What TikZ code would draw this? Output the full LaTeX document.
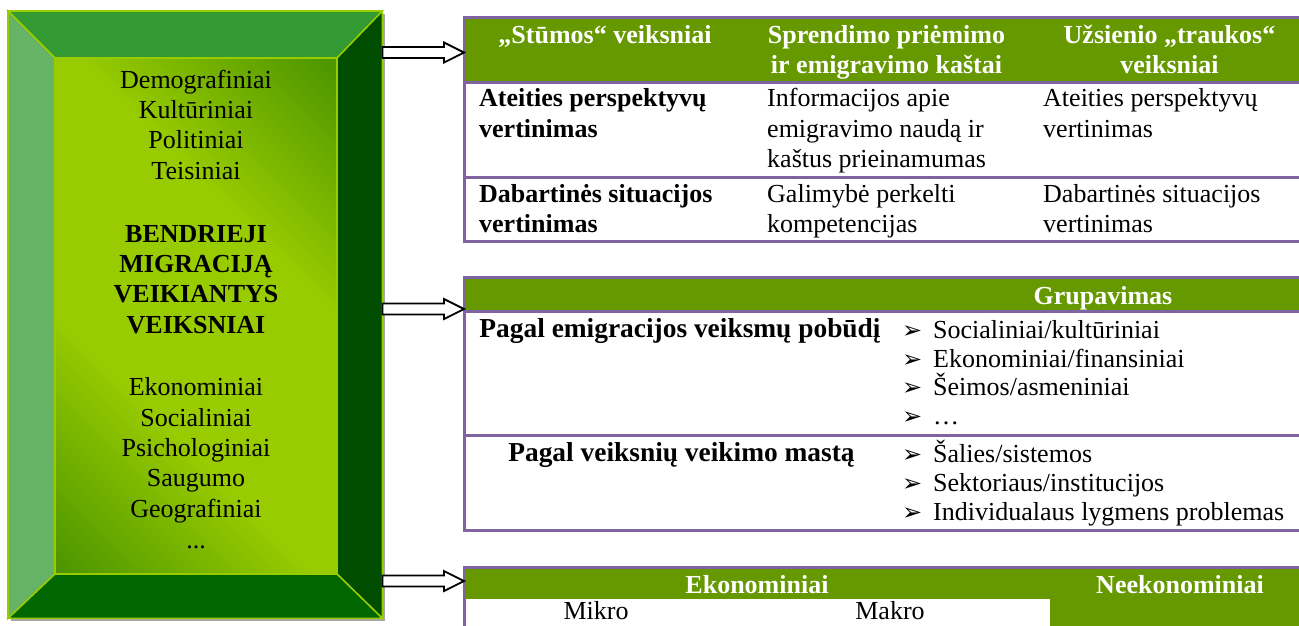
\documentclass[tikz,border=0pt]{standalone}
\usepackage{fontspec}
\setmainfont{Liberation Serif}
\newfontfamily\symfont{DejaVu Sans}
\usetikzlibrary{calc}
\definecolor{hdr}{HTML}{669900}
\definecolor{purp}{HTML}{8064A2}
\definecolor{ygreen}{HTML}{99CC00}
\definecolor{ptop}{HTML}{339933}
\definecolor{pleft}{HTML}{66B366}
\definecolor{pright}{HTML}{004D00}
\definecolor{pbot}{HTML}{006600}
\definecolor{gdark}{HTML}{428E00}
\definecolor{glight}{HTML}{99CC00}
\definecolor{shadowgray}{HTML}{A6A6A6}
\pgfdeclareverticalshading{innergrad}{100bp}{color(0bp)=(gdark); color(12bp)=(gdark); color(38bp)=(glight); color(62bp)=(glight); color(88bp)=(gdark); color(100bp)=(gdark)}
\tikzset{
  txt/.style={font=\fontsize{26}{30}\selectfont, inner sep=0pt, anchor=base},
  txtl/.style={txt, anchor=base west},
  btxt/.style={txt, font=\fontsize{26}{30}\selectfont\bfseries},
  btxtl/.style={btxt, anchor=base west},
  bwide/.style={txt, font=\fontsize{27.4}{30}\selectfont\bfseries},
  htxt/.style={btxt, text=white},
  tline/.style={draw=purp, line width=3pt},
  panel/.style={draw=ygreen, line width=1.5pt, line join=miter},
  barrow/.style={draw=black, fill=white, line width=1.8pt, line join=miter},
  bul/.style={inner sep=0pt, anchor=base west, font=\symfont\fontsize{24}{26}\selectfont},
}
\newcommand\blockarr[2]{%
  \draw[barrow] let \p1=(#1), \p2=(#2) in
    (\x1,\y1+5.5pt) -- (\x2-20pt,\y1+5.5pt) -- (\x2-20pt,\y1+10pt) -- (\x2,\y1)
    -- (\x2-20pt,\y1-10pt) -- (\x2-20pt,\y1-5.5pt) -- (\x1,\y1-5.5pt) -- cycle;}
\newcommand\bitem[3]{%
  \node[bul] (gb#1) at (902,#2) {➢};
  \node[txtl] (gi#1) at (933,#2) {#3};}
\begin{document}
\begin{tikzpicture}[x=1pt,y=-1pt]
\useasboundingbox (0,0) rectangle (1299,625);
% ---------- left bevel box ----------
\node[inner sep=0pt, minimum width=374pt, minimum height=607pt, anchor=north west] (box) at (8,11) {};
\coordinate (iNW) at (55,58);
\coordinate (iNE) at (337,58);
\coordinate (iSE) at (337,574);
\coordinate (iSW) at (55,574);
\fill[shadowgray] ($(box.north west)+(3,3)$) rectangle ($(box.south east)+(3,3)$);
\shade[shading=innergrad, shading angle=-45] (iNW) rectangle (iSE);
\filldraw[panel, fill=ptop] (box.north west) -- (box.north east) -- (iNE) -- (iNW) -- cycle;
\filldraw[panel, fill=pleft] (box.north west) -- (iNW) -- (iSW) -- (box.south west) -- cycle;
\filldraw[panel, fill=pright] (box.north east) -- (box.south east) -- (iSE) -- (iNE) -- cycle;
\filldraw[panel, fill=pbot] (box.south west) -- (box.south east) -- (iSE) -- (iSW) -- cycle;
\draw[panel] (box.north west) rectangle (box.south east);
\draw[panel] (iNW) rectangle (iSE);
% box texts
\node[txt] (bx1) at (196,88) {Demografiniai};
\node[txt] (bx2) at (196,118.5) {Kultūriniai};
\node[txt] (bx3) at (196,148.5) {Politiniai};
\node[txt] (bx4) at (196,179) {Teisiniai};
\node[btxt] (bb1) at (196,242) {BENDRIEJI};
\node[btxt] (bb2) at (196,272) {MIGRACIJĄ};
\node[btxt] (bb3) at (196,302.5) {VEIKIANTYS};
\node[btxt] (bb4) at (196,333) {VEIKSNIAI};
\node[txt] (bx5) at (196,395) {Ekonominiai};
\node[txt] (bx6) at (196,426) {Socialiniai};
\node[txt] (bx7) at (196,456) {Psichologiniai};
\node[txt] (bx8) at (196,486.5) {Saugumo};
\node[txt] (bx9) at (196,517) {Geografiniai};
\node[txt] (bx10) at (196,548) {...};
% ---------- table 1 ----------
\node[inner sep=0pt, minimum width=835pt, minimum height=224pt, anchor=north west] (t1) at (464,17) {};
\fill[hdr] (464,17) rectangle (1299,82);
\draw[tline] (1300,17.5) -- (464,17.5) -- (464,241) -- (1300,241);
\draw[tline] (464,82) -- (1300,82);
\draw[tline] (464,177) -- (1300,177);
\node[htxt] (h11) at (605,43) {„Stūmos“ veiksniai};
\node[htxt] (h12) at (886.5,43) {Sprendimo priėmimo};
\node[htxt] (h12b) at (886.5,73) {ir emigravimo kaštai};
\node[htxt] (h13) at (1169.5,43) {Užsienio „traukos“};
\node[htxt] (h13b) at (1169.5,73) {veiksniai};
\node[btxtl] (r11) at (479,106) {Ateities perspektyvų};
\node[btxtl] (r11b) at (479,137) {vertinimas};
\node[txtl] (r12) at (767,106) {Informacijos apie};
\node[txtl] (r12b) at (767,137) {emigravimo naudą ir};
\node[txtl] (r12c) at (767,167.5) {kaštus prieinamumas};
\node[txtl] (r13) at (1043,106) {Ateities perspektyvų};
\node[txtl] (r13b) at (1043,137) {vertinimas};
\node[btxtl] (r21) at (479,202) {Dabartinės situacijos};
\node[btxtl] (r21b) at (479,232) {vertinimas};
\node[txtl] (r22) at (767,202) {Galimybė perkelti};
\node[txtl] (r22b) at (767,232) {kompetencijas};
\node[txtl] (r23) at (1043,202) {Dabartinės situacijos};
\node[txtl] (r23b) at (1043,232) {vertinimas};
% ---------- table 2 ----------
\node[inner sep=0pt, minimum width=835pt, minimum height=253pt, anchor=north west] (t2) at (464,277) {};
\fill[hdr] (464,277) rectangle (1299,311);
\draw[tline] (1300,277.5) -- (464,277.5) -- (464,530) -- (1300,530);
\draw[tline] (464,311) -- (1300,311);
\draw[tline] (464,435.5) -- (1300,435.5);
\node[htxt] (g0) at (1103,304) {Grupavimas};
\node[bwide] (g1) at (680,337) {Pagal emigracijos veiksmų pobūdį};
\node[bwide] (g2) at (681.5,461) {Pagal veiksnių veikimo mastą};
\bitem{1}{338}{Socialiniai/kultūriniai}
\bitem{2}{367}{Ekonominiai/finansiniai}
\bitem{3}{395.5}{Šeimos/asmeniniai}
\bitem{4}{424}{…}
\bitem{5}{462}{Šalies/sistemos}
\bitem{6}{491}{Sektoriaus/institucijos}
\bitem{7}{520}{Individualaus lygmens problemas}
% ---------- table 3 ----------
\node[inner sep=0pt, minimum width=835pt, minimum height=58pt, anchor=north west] (t3) at (464,567) {};
\fill[hdr] (464,567) rectangle (1299,599);
\fill[hdr] (1050,599) rectangle (1299,630);
\draw[tline] (1300,567.5) -- (464,567.5) -- (464,630);
\node[htxt] (e1) at (757,593) {Ekonominiai};
\node[htxt] (e2) at (1180,593) {Neekonominiai};
\node[txt] (e3) at (596,619) {Mikro};
\node[txt] (e4) at (890,619) {Makro};
% ---------- arrows ----------
\coordinate (a1s) at (box.east |- 0,52.5);
\coordinate (a1e) at (t1.west |- 0,52.5);
\coordinate (a2s) at (box.east |- 0,309);
\coordinate (a2e) at (t2.west |- 0,309);
\coordinate (a3s) at (box.east |- 0,581);
\coordinate (a3e) at (t3.west |- 0,581);
\blockarr{a1s}{a1e}
\blockarr{a2s}{a2e}
\blockarr{a3s}{a3e}
\end{tikzpicture}
\end{document}
